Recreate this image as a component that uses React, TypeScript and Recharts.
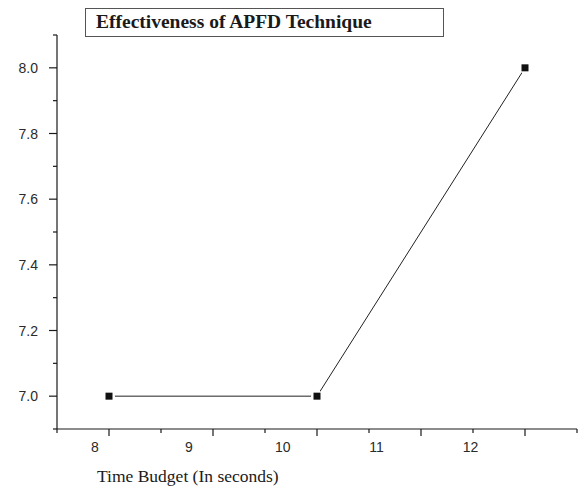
import React from "react";
import { LineChart, Line, XAxis, YAxis } from "recharts";

const timeBudget = [8, 10, 12];
const apfdValues = [7.0, 7.0, 8.0];
const xTickLabels = [8, 9, 10, 11, 12];
const xTickMarks = [7.5, 8, 8.5, 9, 9.5, 10, 10.5, 11, 11.5, 12, 12.5];
const yTicks = [6.9, 7.0, 7.1, 7.2, 7.3, 7.4, 7.5, 7.6, 7.7, 7.8, 7.9, 8.0, 8.1];

const data = timeBudget.map((t, i) => ({ t, v: apfdValues[i] }));

const AXIS = "#1a1a1a";

const XTickMark = (props: any) => {
  const { x, y, payload } = props;
  const major = Number.isInteger(payload.value);
  return (
    <line x1={x} x2={x} y1={y} y2={y + (major ? 7 : 4)} stroke={AXIS} strokeWidth={1.2} />
  );
};

const YTick = (props: any) => {
  const { x, y, payload } = props;
  const tenth = Math.round(payload.value * 10);
  const major = tenth % 2 === 0;
  return (
    <g>
      <line x1={x - (major ? 8 : 4)} x2={x} y1={y} y2={y} stroke={AXIS} strokeWidth={1.2} />
      {major && (
        <text
          x={x - 19}
          y={y}
          dy="0.36em"
          textAnchor="end"
          fontFamily="'Liberation Sans', Arial, sans-serif"
          fontSize={14}
          fill="#2a2a2a"
        >
          {payload.value.toFixed(1)}
        </text>
      )}
    </g>
  );
};

const SquareDot = (props: any) => {
  const { cx, cy, index } = props;
  return (
    <g key={`d${index}`}>
      <circle cx={cx} cy={cy} r={6} fill="#fff" />
      <rect x={cx - 3.5} y={cy - 3.5} width={7} height={7} fill="#111" />
    </g>
  );
};

export default function App() {
  return (
    <div style={{ position: "absolute", left: 0, top: 0, width: 582, height: 491, background: "#fff" }}>
      <LineChart
        width={582}
        height={491}
        data={data}
        margin={{ top: 35, right: 5, left: 0, bottom: 31 }}
      >
        <XAxis
          xAxisId="a"
          dataKey="t"
          type="number"
          domain={[7.5, 12.5]}
          allowDataOverflow
          ticks={xTickMarks}
          interval={0}
          tick={<XTickMark />}
          tickLine={false}
          tickSize={0}
          tickMargin={0}
          height={1}
          axisLine={{ stroke: AXIS, strokeWidth: 1.2 }}
        />
        <XAxis
          xAxisId="b"
          dataKey="t"
          type="number"
          domain={[7.595, 13.135]}
          allowDataOverflow
          ticks={xTickLabels}
          interval={0}
          axisLine={false}
          tickLine={false}
          tickSize={0}
          tickMargin={12}
          height={30}
          tick={{ fontFamily: "'Liberation Sans', Arial, sans-serif", fontSize: 14, fill: "#2a2a2a" }}
        />
        <YAxis
          type="number"
          domain={[6.9, 8.1]}
          allowDataOverflow
          ticks={yTicks}
          interval={0}
          width={57}
          tick={<YTick />}
          tickLine={false}
          tickSize={0}
          tickMargin={0}
          axisLine={{ stroke: AXIS, strokeWidth: 1.2 }}
        />
        <Line
          xAxisId="a"
          type="linear"
          dataKey="v"
          stroke="#222"
          strokeWidth={1}
          dot={SquareDot}
          activeDot={false}
          isAnimationActive={false}
        />
      </LineChart>
      <div
        style={{
          position: "absolute",
          left: 85,
          top: 8,
          width: 359,
          height: 29,
          boxSizing: "border-box",
          border: "1px solid #555",
          paddingLeft: 10,
          lineHeight: "26px",
          fontFamily: "'Liberation Serif', 'Times New Roman', serif",
          fontWeight: "bold",
          fontSize: 19.5,
          color: "#1a1a1a",
          whiteSpace: "nowrap",
        }}
      >
        Effectiveness of APFD Technique
      </div>
      <div
        style={{
          position: "absolute",
          left: 97,
          top: 466,
          fontFamily: "'Liberation Serif', 'Times New Roman', serif",
          fontSize: 17.5,
          color: "#1a1a1a",
          whiteSpace: "nowrap",
        }}
      >
        Time Budget (In seconds)
      </div>
    </div>
  );
}
